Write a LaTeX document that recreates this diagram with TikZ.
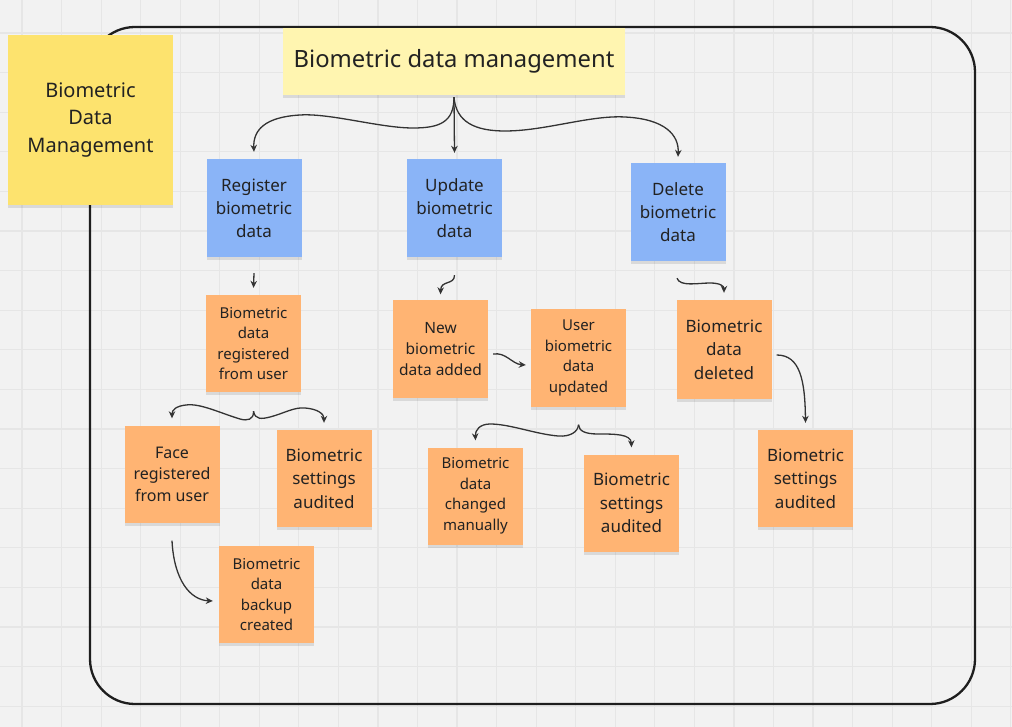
\documentclass[tikz,border=0pt]{standalone}
\usepackage{fontspec}
\setmainfont{Noto Sans}
\usetikzlibrary{arrows.meta,shadows,calc}
\definecolor{bgc}{HTML}{F2F2F2}
\definecolor{gridc}{HTML}{E6E6E6}
\definecolor{framec}{HTML}{1E1E1E}
\definecolor{ink}{HTML}{222222}
\definecolor{linec}{HTML}{333333}
\definecolor{yelA}{HTML}{FDE36E}
\definecolor{yelB}{HTML}{FFF5B0}
\definecolor{blueN}{HTML}{8AB4F7}
\definecolor{orN}{HTML}{FFB473}
\tikzset{
  note/.style={inner sep=0pt, align=center, text=ink,
    drop shadow={shadow xshift=0pt, shadow yshift=-3pt, opacity=0.10, fill=black}},
  bluenote/.style={note, fill=blueN, minimum width=95pt, minimum height=98pt,
    font=\fontsize{17}{23}\selectfont},
  ornote/.style={note, fill=orN, minimum width=95pt, minimum height=97pt,
    font=\fontsize{15}{20.5}\selectfont},
  ornotebig/.style={ornote, font=\fontsize{17}{23.5}\selectfont},
  arr/.style={draw=linec, line width=1.3pt, -{Stealth[length=7pt,width=6.5pt]}},
}
\begin{document}
\begin{tikzpicture}[x=1pt,y=-1pt]
\useasboundingbox (0,0) rectangle (1012,727);
\fill[bgc] (0,0) rectangle (1012,727);
% grid
\foreach \k in {0,...,25} {
  \draw[gridc, line width=1.2pt] ({22+39.55*\k},0) -- ({22+39.55*\k},727);
}
\foreach \k in {0,...,18} {
  \draw[gridc, line width=1.2pt] (0,{33+39.6*\k}) -- (1012,{33+39.6*\k});
}
% frame
\draw[framec, line width=2.3pt, rounded corners=45pt] (90,27) rectangle (975,704);

% notes
\node[note, fill=yelA, minimum width=165pt, minimum height=170pt,
      font=\fontsize{20}{27.5}\selectfont] (yel) at (90.5,120) {Biometric\\Data\\Management};
\node[note, fill=yelB, minimum width=342pt, minimum height=67pt,
      font=\fontsize{23.8}{28}\selectfont] (title) at (454,61.5) {Biometric data management};

\node[bluenote] (reg) at (254,208) {Register\\biometric\\data};
\node[bluenote] (upd) at (454.5,208) {Update\\biometric\\data};
\node[bluenote] (del) at (678,212) {Delete\\biometric\\data};

\node[ornote] (o1) at (253.5,343.5) {Biometric\\data\\registered\\from user};
\node[ornote, font=\fontsize{16}{21.5}\selectfont] (face) at (172,474) {Face\\registered\\from user};
\node[ornotebig] (audL) at (324,478.5) {Biometric\\settings\\audited};
\node[ornote] (backup) at (266.5,594.5) {Biometric\\data\\backup\\created};
\node[ornote, font=\fontsize{15.5}{21}\selectfont] (new) at (440.5,349) {New\\biometric\\data added};
\node[ornote] (updd) at (578.5,358) {User\\biometric\\data\\updated};
\node[ornote] (chg) at (475.5,496) {Biometric\\data\\changed\\manually};
\node[ornotebig] (audM) at (631.5,503) {Biometric\\settings\\audited};
\node[ornotebig, minimum height=99pt] (deld) at (724,349.5) {Biometric\\data\\deleted};
\node[ornotebig] (audR) at (805.5,478.5) {Biometric\\settings\\audited};

% title split
\coordinate (tcusp) at ([yshift=-2pt]title.south);
\draw[arr] (tcusp) .. controls (454,122) and (440,128) .. (413,128)
  .. controls (380,128) and (330,113) .. (300,115)
  .. controls (265,117) and (253,130) .. ([yshift=7pt]reg.north);
\draw[arr] (tcusp) -- ([yshift=6pt]upd.north);
\draw[arr] (tcusp) .. controls (456,122) and (475,131) .. (505,131)
  .. controls (545,131) and (590,115) .. (625,117)
  .. controls (665,119) and (679,135) .. ([yshift=6pt]del.north);

% column arrows
\draw[arr] ([yshift=-16pt]reg.south) -- ([yshift=7pt]o1.north);
\draw[arr] ([yshift=-18pt]upd.south) .. controls +(0,10) and (441,280) .. ([yshift=6pt]new.north);
\draw[arr] ([xshift=-1pt,yshift=-17pt]del.south) .. controls (680,287) and (698,283) .. (710,283)
  .. controls (720,283) and (724,286) .. ([yshift=7pt]deld.north);
\draw[arr] ([xshift=5pt,yshift=-5pt]new.east) .. controls (506,352) and (512,364) .. ([xshift=-5pt,yshift=-7pt]updd.west);
\draw[arr] ([xshift=5pt,yshift=-5.5pt]deld.east) .. controls (800,355) and (805,380) .. ([yshift=7pt]audR.north);
\draw[arr] ([yshift=-18pt]face.south) .. controls (174,580) and (190,600) .. ([xshift=-6pt,yshift=-6.5pt]backup.west);

% brace under o1
\coordinate (bcusp1) at ([yshift=-19pt]o1.south);
\draw[arr] (bcusp1) .. controls (254,420) and (247,421) .. (240,419)
  .. controls (220,413) and (200,403) .. (186,405)
  .. controls (176,406) and (172,410) .. ([yshift=7pt]face.north);
\draw[arr] (bcusp1) .. controls (255,420) and (262,419) .. (270,417)
  .. controls (285,413) and (294,407) .. (305,408)
  .. controls (318,409) and (324,414) .. ([yshift=7pt]audL.north);

% brace under updd
\coordinate (bcusp2) at ([yshift=-18pt]updd.south);
\draw[arr] (bcusp2) .. controls (578,432) and (570,437) .. (558,436)
  .. controls (535,434) and (510,424) .. (490,424)
  .. controls (480,424) and (475,430) .. ([yshift=7pt]chg.north);
\draw[arr] (bcusp2) .. controls (579,431) and (585,434) .. (598,434)
  .. controls (615,434) and (631,434) .. ([yshift=7pt]audM.north);
\end{tikzpicture}
\end{document}
